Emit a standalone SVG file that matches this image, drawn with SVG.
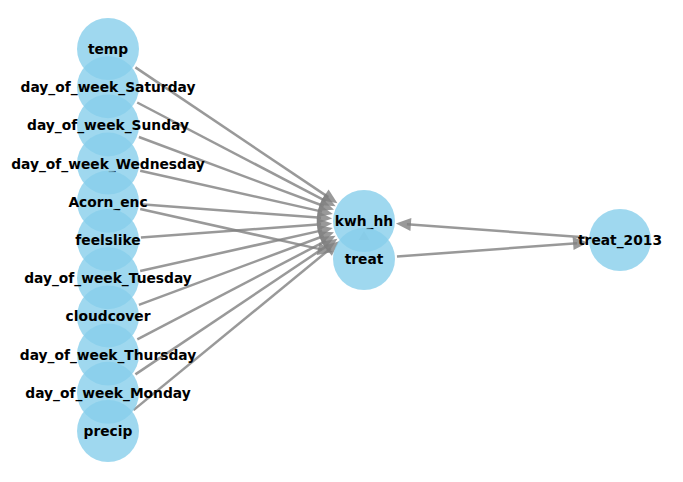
<svg xmlns="http://www.w3.org/2000/svg" width="683" height="482" viewBox="0 0 683 482">
<style>
.e{stroke:#808080;stroke-opacity:0.8;stroke-width:2.5;fill:none;marker-end:url(#ah)}
.n circle{fill:#87CEEB;fill-opacity:0.8}
.n text{font-family:"DejaVu Sans",sans-serif;font-weight:bold;font-size:13.8px;text-anchor:middle;fill:#000}
</style>
<defs>
<marker id="ah" markerUnits="userSpaceOnUse" markerWidth="16" markerHeight="14" refX="4" refY="6.5" orient="auto" overflow="visible">
<path d="M0,0 L15,6.5 L0,13 z" fill="#808080" fill-opacity="0.8"/>
</marker>
</defs>
<rect width="683" height="482" fill="#fff"/>
<g id="edges">
<line class="e" x1="135.4" y1="67.4" x2="328.3" y2="197.1"/>
<line class="e" x1="137.2" y1="102.5" x2="325.9" y2="201.1"/>
<line class="e" x1="138.9" y1="137.0" x2="323.7" y2="206.0"/>
<line class="e" x1="140.2" y1="170.8" x2="322.1" y2="211.6"/>
<line class="e" x1="140.9" y1="204.3" x2="321.1" y2="217.8"/>
<line class="e" x1="140.9" y1="237.6" x2="321.1" y2="224.2"/>
<line class="e" x1="140.2" y1="271.0" x2="322.1" y2="230.4"/>
<line class="e" x1="138.9" y1="304.9" x2="323.7" y2="236.0"/>
<line class="e" x1="137.3" y1="339.3" x2="325.9" y2="240.9"/>
<line class="e" x1="135.4" y1="374.4" x2="328.3" y2="244.9"/>
<line class="e" x1="133.5" y1="410.1" x2="330.8" y2="248.3"/>
<line class="e" x1="140.2" y1="209.0" x2="322.1" y2="249.6"/>
<line class="e" x1="397.0" y1="256.6" x2="577.1" y2="243.2"/>
<line class="e" x1="587.1" y1="237.6" x2="406.9" y2="224.2"/>
<polygon points="364,231 358.5,240 369.5,240" fill="#808080" fill-opacity="0.8"/>
</g>
<g id="temp" class="n"><circle cx="108" cy="49" r="31"/><text x="108" y="54">temp</text></g>
<g id="day_of_week_Saturday" class="n"><circle cx="108" cy="87.2" r="31"/><text x="108" y="92.2">day_of_week_Saturday</text></g>
<g id="day_of_week_Sunday" class="n"><circle cx="108" cy="125.4" r="31"/><text x="108" y="130.4">day_of_week_Sunday</text></g>
<g id="day_of_week_Wednesday" class="n"><circle cx="108" cy="163.6" r="31"/><text x="108" y="168.6">day_of_week_Wednesday</text></g>
<g id="Acorn_enc" class="n"><circle cx="108" cy="201.8" r="31"/><text x="108" y="206.8">Acorn_enc</text></g>
<g id="feelslike" class="n"><circle cx="108" cy="240" r="31"/><text x="108" y="245">feelslike</text></g>
<g id="day_of_week_Tuesday" class="n"><circle cx="108" cy="278.2" r="31"/><text x="108" y="283.2">day_of_week_Tuesday</text></g>
<g id="cloudcover" class="n"><circle cx="108" cy="316.4" r="31"/><text x="108" y="321.4">cloudcover</text></g>
<g id="day_of_week_Thursday" class="n"><circle cx="108" cy="354.6" r="31"/><text x="108" y="359.6">day_of_week_Thursday</text></g>
<g id="day_of_week_Monday" class="n"><circle cx="108" cy="392.8" r="31"/><text x="108" y="397.8">day_of_week_Monday</text></g>
<g id="precip" class="n"><circle cx="108" cy="431" r="31"/><text x="108" y="436">precip</text></g>
<g id="kwh_hh" class="n"><circle cx="364" cy="221" r="31"/><text x="364" y="226">kwh_hh</text></g>
<g id="treat" class="n"><circle cx="364" cy="259" r="31"/><text x="364" y="264">treat</text></g>
<g id="treat_2013" class="n"><circle cx="620" cy="240" r="31"/><text x="620" y="245">treat_2013</text></g>
</svg>
